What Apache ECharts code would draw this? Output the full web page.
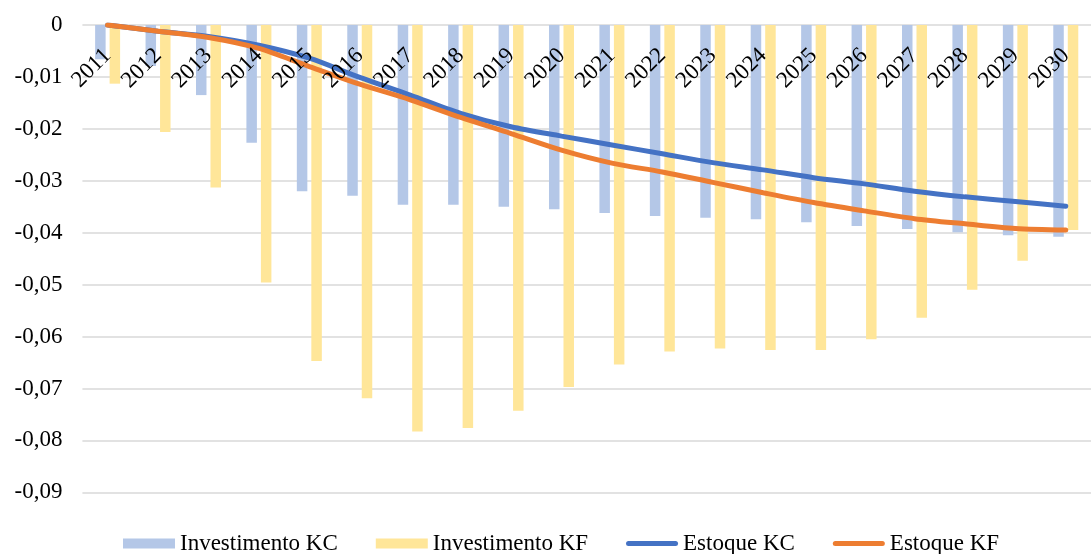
<!DOCTYPE html>
<html>
<head>
<meta charset="utf-8">
<script src="https://cdn.jsdelivr.net/npm/echarts@6/dist/echarts.min.js"></script>
<style>
  html, body { margin: 0; padding: 0; background: #ffffff; }
  #chart { width: 1091px; height: 554px; }
</style>
</head>
<body>
<div id="chart"></div>
<script>
// Anos
const years = ['2011','2012','2013','2014','2015','2016','2017','2018','2019','2020',
               '2021','2022','2023','2024','2025','2026','2027','2028','2029','2030'];

// Investimento (barras)
const investimentoKC = [-0.0066,-0.0079,-0.0135,-0.0227,-0.0320,-0.0329,-0.0346,-0.0346,-0.0350,-0.0355,
                        -0.0362,-0.0368,-0.0371,-0.0374,-0.0380,-0.0387,-0.0393,-0.0399,-0.0405,-0.0408];
const investimentoKF = [-0.0113,-0.0206,-0.0313,-0.0496,-0.0647,-0.0719,-0.0783,-0.0776,-0.0743,-0.0697,
                        -0.0654,-0.0629,-0.0623,-0.0626,-0.0626,-0.0605,-0.0564,-0.0510,-0.0454,-0.0395];

// Estoque (linhas)
const estoqueKC = [0,-0.0012,-0.0022,-0.0039,-0.0064,-0.0101,-0.0135,-0.0170,-0.0196,-0.0214,
                   -0.0231,-0.0248,-0.0265,-0.0279,-0.0294,-0.0306,-0.0320,-0.0331,-0.0340,-0.0349];
const estoqueKF = [0,-0.0012,-0.0024,-0.0045,-0.0080,-0.0114,-0.0144,-0.0178,-0.0209,-0.0241,
                   -0.0266,-0.0283,-0.0303,-0.0323,-0.0342,-0.0358,-0.0373,-0.0383,-0.0392,-0.0395];

// Eixo vertical
const yMin = -0.09, yMax = 0, yStep = 0.01;

const FONT = '"Liberation Serif", "Times New Roman", serif';
// Ícone de linha com pontas arredondadas para a legenda
const LINE_ICON = 'path://M2.5,0 L49.5,0 A2.5,2.5 0 0 1 49.5,5 L2.5,5 A2.5,2.5 0 0 1 2.5,0 Z';

const chart = echarts.init(document.getElementById('chart'), null, { renderer: 'canvas' });

chart.setOption({
  animation: false,
  backgroundColor: '#ffffff',
  textStyle: { fontFamily: FONT, color: '#000000' },
  grid: { left: 82.4, right: -14.6, top: 25, bottom: 61.7, containLabel: false },
  legend: {
    left: 118,
    top: 527,
    itemWidth: 52,
    itemHeight: 10,
    itemGap: 38,
    symbolKeepAspect: true,
    textStyle: { fontFamily: FONT, fontSize: 23, color: '#000000' },
    data: [
      { name: 'Investimento KC', icon: 'rect' },
      { name: 'Investimento KF', icon: 'rect' },
      { name: 'Estoque KC', icon: LINE_ICON },
      { name: 'Estoque KF', icon: LINE_ICON }
    ]
  },
  xAxis: {
    type: 'category',
    data: years,
    position: 'top',
    z: 6,
    // linha do eixo transparente: a linha do zero vem da grade do eixo vertical
    axisLine: { show: true, onZero: false, lineStyle: { color: 'rgba(0,0,0,0)', width: 1.5 } },
    axisTick: { show: false },
    axisLabel: {
      inside: true,
      rotate: -45,
      align: 'right',
      verticalAlign: 'middle',
      margin: 27,
      interval: 0,
      fontFamily: FONT,
      fontSize: 23,
      color: '#000000'
    },
    splitLine: { show: false }
  },
  yAxis: {
    type: 'value',
    min: yMin,
    max: yMax,
    interval: yStep,
    axisLine: { show: false },
    axisTick: { show: false },
    axisLabel: {
      margin: 20,
      fontFamily: FONT,
      fontSize: 23,
      color: '#000000',
      formatter: v => (Math.abs(v) < 1e-9 ? '0' : v.toFixed(2).replace('.', ','))
    },
    splitLine: { show: true, lineStyle: { color: '#D9D9D9', width: 1.5 } }
  },
  series: [
    {
      name: 'Investimento KC',
      type: 'bar',
      data: investimentoKC,
      barWidth: 10.5,
      barGap: '38%',
      itemStyle: { color: '#B4C7E7' }
    },
    {
      name: 'Investimento KF',
      type: 'bar',
      data: investimentoKF,
      barWidth: 10.5,
      barGap: '38%',
      itemStyle: { color: '#FFE699' }
    },
    {
      name: 'Estoque KC',
      type: 'line',
      data: estoqueKC,
      smooth: 0.3,
      symbol: 'none',
      z: 5,
      itemStyle: { color: '#4472C4' },
      lineStyle: { color: '#4472C4', width: 5, cap: 'round' }
    },
    {
      name: 'Estoque KF',
      type: 'line',
      data: estoqueKF,
      smooth: 0.3,
      symbol: 'none',
      z: 5,
      itemStyle: { color: '#ED7D31' },
      lineStyle: { color: '#ED7D31', width: 5, cap: 'round' }
    }
  ]
});
</script>
</body>
</html>
